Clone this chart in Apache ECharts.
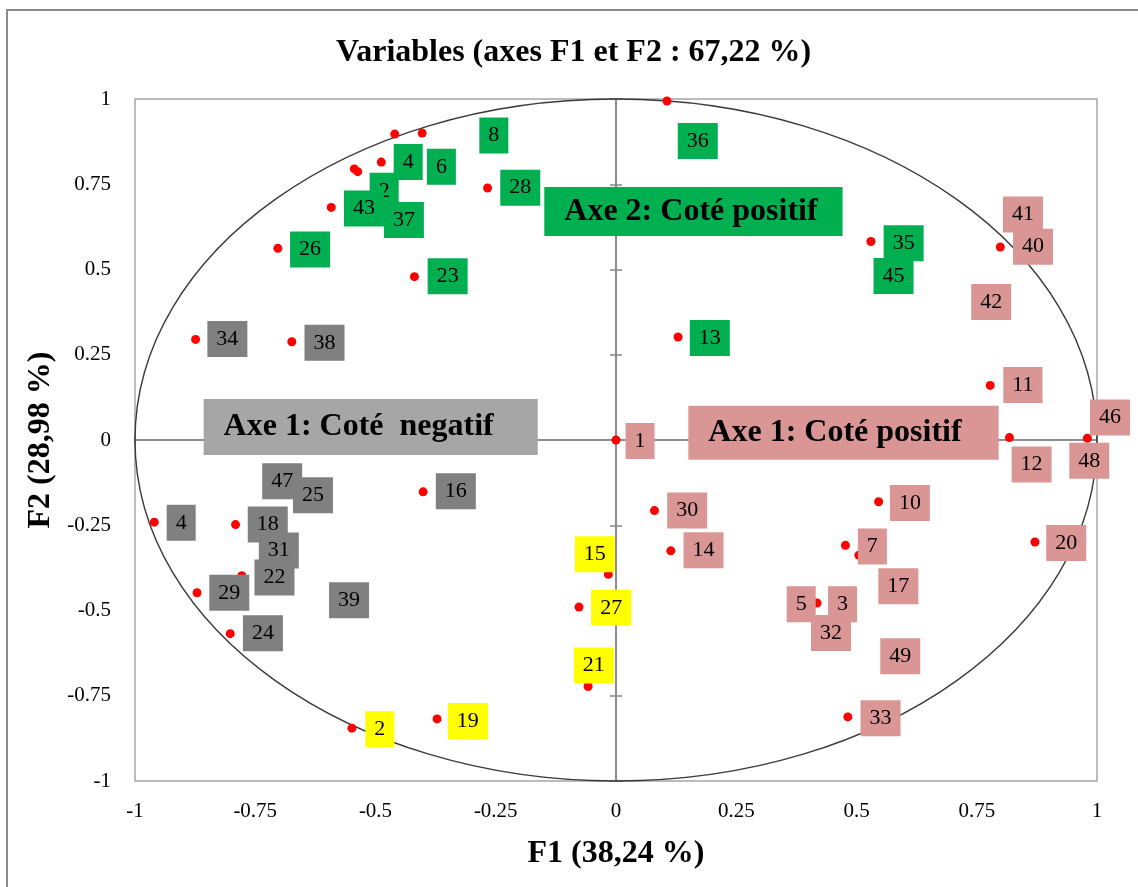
<!DOCTYPE html>
<html><head><meta charset="utf-8">
<script src="https://cdn.jsdelivr.net/npm/echarts@6/dist/echarts.min.js"></script>
<style>html,body{margin:0;padding:0;background:#fff}#c{width:1138px;height:887px}</style>
</head><body><div id="c"></div>
<script>
// ---- data (F1, F2 coordinates) ----
const titleText = 'Variables (axes F1 et F2 : 67,22 %)';
const xAxisTitle = 'F1 (38,24 %)';
const yAxisTitle = 'F2 (28,98 %)';
const axisMin = -1, axisMax = 1, axisStep = 0.25;

// red points (variables)
const variablePoints = [
  [0.106, 0.994], [-0.460, 0.897], [-0.403, 0.900], [-0.488, 0.815], [-0.544, 0.795],
  [-0.537, 0.787], [-0.592, 0.682], [-0.703, 0.562], [-0.419, 0.479], [-0.267, 0.739],
  [0.129, 0.302], [0.530, 0.582],
  [0.799, 0.566], [0.778, 0.160], [0.818, 0.007], [0.980, 0.005], [0.000, 0.000],
  [0.080, -0.207], [0.114, -0.325], [0.546, -0.181], [0.477, -0.309], [0.505, -0.338],
  [0.418, -0.478], [0.482, -0.812], [0.871, -0.299],
  [-0.874, 0.295], [-0.674, 0.288], [-0.401, -0.152], [-0.960, -0.241], [-0.791, -0.248],
  [-0.778, -0.398], [-0.871, -0.448], [-0.802, -0.568],
  [-0.016, -0.394], [-0.077, -0.490], [-0.058, -0.723], [-0.549, -0.845], [-0.372, -0.818]
];

// label anchors [F1, F2, text]
const labelsGreen = [
  [-0.254, 0.893, '8'], [-0.482, 0.731, '2'], [-0.432, 0.815, '4'], [-0.363, 0.801, '6'],
  [-0.524, 0.679, '43'], [-0.441, 0.645, '37'], [-0.199, 0.740, '28'], [-0.636, 0.559, '26'],
  [-0.350, 0.480, '23'], [0.170, 0.877, '36'], [0.195, 0.299, '13'], [0.598, 0.577, '35'],
  [0.577, 0.481, '45']
];
const labelsGray = [
  [-0.808, 0.296, '34'], [-0.606, 0.285, '38'], [-0.694, -0.121, '47'], [-0.630, -0.162, '25'],
  [-0.333, -0.150, '16'], [-0.904, -0.243, '4'], [-0.724, -0.248, '18'], [-0.710, -0.403, '22'],
  [-0.701, -0.324, '31'], [-0.804, -0.448, '29'], [-0.555, -0.470, '39'], [-0.734, -0.567, '24']
];
const labelsYellow = [
  [-0.044, -0.335, '15'], [-0.010, -0.492, '27'], [-0.046, -0.661, '21'],
  [-0.491, -0.848, '2'], [-0.308, -0.824, '19']
];
const labelsPink = [
  [0.050, -0.003, '1'], [0.148, -0.207, '30'], [0.182, -0.323, '14'], [0.611, -0.185, '10'],
  [0.533, -0.312, '7'], [0.587, -0.429, '17'], [0.385, -0.482, '5'], [0.471, -0.482, '3'],
  [0.447, -0.566, '32'], [0.591, -0.634, '49'], [0.550, -0.816, '33'], [0.936, -0.302, '20'],
  [0.846, 0.661, '41'], [0.867, 0.567, '40'], [0.780, 0.405, '42'], [0.846, 0.161, '11'],
  [1.027, 0.066, '46'], [0.984, -0.061, '48'], [0.864, -0.072, '12']
];
const sectionLabels = [
  [0.161, 0.670, 'Axe 2: Coté positif'],
  [-0.510, 0.038, 'Axe 1: Coté  negatif'],
  [0.473, 0.021, 'Axe 1: Coté positif']
];

// ---- styles ----
const FONT = '"Liberation Serif", "Times New Roman", serif';
const groupColors = { green: '#00B050', gray: '#808080', yellow: '#FFFF00', pink: '#D99694' };
const sectionBox = [
  { bg: '#00B050', h: 49, padL: 20, padR: 25 },
  { bg: '#A6A6A6', h: 56, padL: 20, padR: 44 },
  { bg: '#D99694', h: 54, padL: 20, padR: 37 }
];

function labelSeries(data, color) {
  return {
    type: 'scatter', data: data, symbolSize: 1, clip: false, z: 4,
    itemStyle: { color: 'rgba(0,0,0,0)', opacity: 1 },
    emphasis: { disabled: true },
    label: {
      show: true, position: 'inside', formatter: p => p.value[2],
      fontFamily: FONT, fontSize: 22, color: '#000', lineHeight: 22,
      backgroundColor: color, padding: [7, 9, 7, 9]
    }
  };
}

function baseAxis(extra) {
  return Object.assign({
    type: 'value', min: axisMin, max: axisMax, interval: axisStep,
    splitLine: { show: false }
  }, extra);
}

const chart = echarts.init(document.getElementById('c'), null, { renderer: 'canvas' });
const option = {
  animation: false,
  backgroundColor: '#ffffff',
  title: {
    text: titleText, left: 331, top: 32,
    textStyle: { fontFamily: FONT, fontSize: 32, fontWeight: 'bold', color: '#000' }
  },
  graphic: [{
    type: 'rect', z: -10, silent: true,
    shape: { x: 7, y: 10, width: 1300, height: 1000 },
    style: { fill: 'none', stroke: '#8a8a8a', lineWidth: 2 }
  }],
  grid: { left: 135, right: 41, top: 99, bottom: 106, show: true, borderColor: '#a6a6a6', borderWidth: 1.5, backgroundColor: 'transparent' },
  xAxis: [
    baseAxis({
      position: 'bottom',
      axisLine: { show: false, onZero: false }, axisTick: { show: false },
      axisLabel: { fontFamily: FONT, fontSize: 21, color: '#000', margin: 20 },
      name: xAxisTitle, nameLocation: 'middle', nameGap: 57,
      nameTextStyle: { fontFamily: FONT, fontSize: 32, fontWeight: 'bold', color: '#000' }
    }),
    baseAxis({
      position: 'bottom',
      axisLine: { show: true, onZero: true, onZeroAxisIndex: 0, lineStyle: { color: '#868686', width: 1.5 } },
      axisTick: { show: true, inside: true, length: 6, lineStyle: { color: '#868686', width: 1.5 } },
      axisLabel: { show: false }
    }),
    baseAxis({
      position: 'bottom',
      axisLine: { show: true, onZero: true, onZeroAxisIndex: 0, lineStyle: { color: '#868686', width: 1.5 } },
      axisTick: { show: true, inside: false, length: 6, lineStyle: { color: '#868686', width: 1.5 } },
      axisLabel: { show: false }
    })
  ],
  yAxis: [
    baseAxis({
      position: 'left',
      axisLine: { show: false, onZero: false }, axisTick: { show: false },
      axisLabel: { fontFamily: FONT, fontSize: 21, color: '#000', margin: 24 },
      name: yAxisTitle, nameLocation: 'middle', nameGap: 75, nameRotate: 90,
      nameTextStyle: { fontFamily: FONT, fontSize: 32, fontWeight: 'bold', color: '#000' }
    }),
    baseAxis({
      position: 'left',
      axisLine: { show: true, onZero: true, onZeroAxisIndex: 0, lineStyle: { color: '#868686', width: 1.5 } },
      axisTick: { show: true, inside: true, length: 6, lineStyle: { color: '#868686', width: 1.5 } },
      axisLabel: { show: false }
    }),
    baseAxis({
      position: 'left',
      axisLine: { show: true, onZero: true, onZeroAxisIndex: 0, lineStyle: { color: '#868686', width: 1.5 } },
      axisTick: { show: true, inside: false, length: 6, lineStyle: { color: '#868686', width: 1.5 } },
      axisLabel: { show: false }
    })
  ],
  series: [
    {
      type: 'custom', z: 2, clip: false, silent: true,
      data: [[0, 0, 1]],
      renderItem: function (params, api) {
        const c = api.coord([0, 0]);
        const r = api.value(2);
        const px = api.coord([r, 0]);
        const py = api.coord([0, r]);
        return {
          type: 'ellipse',
          shape: { cx: c[0], cy: c[1], rx: px[0] - c[0], ry: c[1] - py[1] },
          style: { fill: 'none', stroke: '#3a3a3a', lineWidth: 1.4 }
        };
      }
    },
    {
      type: 'scatter', data: variablePoints, symbolSize: 9, z: 3, clip: false,
      itemStyle: { color: '#FF0000', opacity: 1 }, emphasis: { disabled: true }
    },
    labelSeries(labelsGreen, groupColors.green),
    labelSeries(labelsGray, groupColors.gray),
    labelSeries(labelsYellow, groupColors.yellow),
    labelSeries(labelsPink, groupColors.pink),
    {
      type: 'scatter', symbolSize: 1, clip: false, z: 5,
      itemStyle: { color: 'rgba(0,0,0,0)', opacity: 1 }, emphasis: { disabled: true },
      data: sectionLabels.map((d, i) => ({
        value: d,
        label: {
          show: true, position: 'inside', formatter: p => p.value[2],
          fontFamily: FONT, fontSize: 32, fontWeight: 'bold', color: '#000',
          backgroundColor: sectionBox[i].bg,
          lineHeight: sectionBox[i].h - 3,
          padding: [3, sectionBox[i].padR, 0, sectionBox[i].padL]
        }
      }))
    }
  ]
};
chart.setOption(option);
</script>
</body></html>
